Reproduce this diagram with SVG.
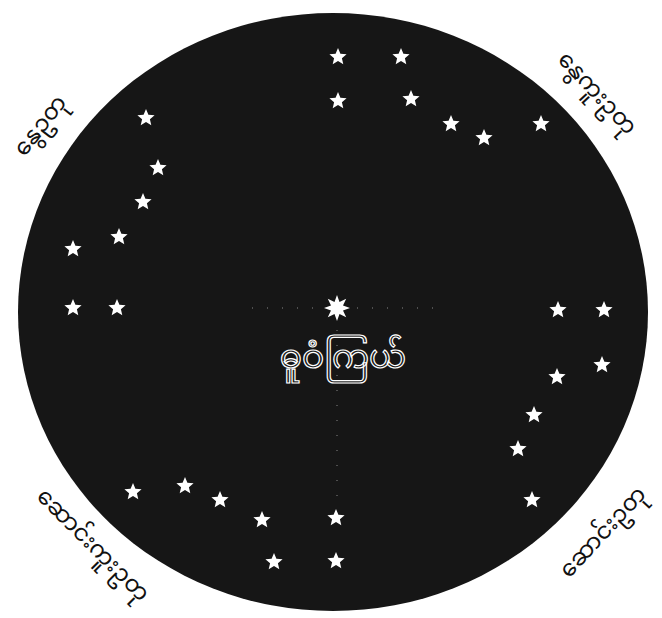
<svg xmlns="http://www.w3.org/2000/svg" width="662" height="618" viewBox="0 0 662 618">
<defs>
<style>
.lbl{font-family:"Noto Sans Myanmar","Padauk","Myanmar Text","Noto Sans",sans-serif;font-size:23px;fill:#111;text-anchor:middle}
.ctr{font-family:"Noto Sans Myanmar","Padauk","Myanmar Text","Noto Sans",sans-serif;font-size:33px;fill:#161616;stroke:#fff;stroke-width:1.2;text-anchor:middle}
.st{fill:#fff}
.dots{stroke:#888;stroke-width:1;stroke-dasharray:1 14;fill:none}
</style>
<path id="star" d="M0,-9 L2.4,-3.3 L8.6,-2.8 L3.9,1.25 L5.3,7.3 L0,4.1 L-5.3,7.3 L-3.9,1.25 L-8.6,-2.8 L-2.4,-3.3Z"/>
</defs>
<rect width="662" height="618" fill="#fff"/>
<ellipse id="sky" cx="333" cy="312" rx="315" ry="299" fill="#161616"/>
<g id="guides">
<line class="dots" x1="252" y1="308" x2="440" y2="308"/>
<line class="dots" x1="337" y1="330" x2="337" y2="500"/>
</g>
<g id="group-top" class="st">
<use href="#star" x="338" y="57"/>
<use href="#star" x="401" y="57"/>
<use href="#star" x="338" y="101"/>
<use href="#star" x="411" y="99"/>
<use href="#star" x="451" y="124"/>
<use href="#star" x="484" y="138"/>
<use href="#star" x="541" y="124"/>
</g>
<g id="group-left" class="st">
<use href="#star" x="146" y="118"/>
<use href="#star" x="158" y="168"/>
<use href="#star" x="143" y="202"/>
<use href="#star" x="119" y="237"/>
<use href="#star" x="73" y="249"/>
<use href="#star" x="73" y="308"/>
<use href="#star" x="117" y="308"/>
</g>
<g id="group-right" class="st">
<use href="#star" x="558" y="310"/>
<use href="#star" x="604" y="310"/>
<use href="#star" x="602" y="365"/>
<use href="#star" x="557" y="377"/>
<use href="#star" x="534" y="415"/>
<use href="#star" x="518" y="449"/>
<use href="#star" x="532" y="500"/>
</g>
<g id="group-bottom" class="st">
<use href="#star" x="133" y="492"/>
<use href="#star" x="185" y="486"/>
<use href="#star" x="220" y="500"/>
<use href="#star" x="262" y="520"/>
<use href="#star" x="336" y="518"/>
<use href="#star" x="274" y="562"/>
<use href="#star" x="336" y="561"/>
</g>
<g id="pole-star">
<polygon class="st" points="337,295 339.5,302 346.2,298.8 343,305.5 350,308 343,310.5 346.2,317.2 339.5,314 337,321 334.5,314 327.8,317.2 331,310.5 324,308 331,305.5 327.8,298.8 334.5,302"/>
<text class="ctr" x="343" y="368">ဓူဝံကြယ်</text>
</g>
<g id="label-tl"><text class="lbl" transform="translate(46,130) rotate(-52)">နွေဥတု</text></g>
<g id="label-tr"><text class="lbl" transform="translate(592,98) rotate(47)">နွေကူးဥတု</text></g>
<g id="label-bl"><text class="lbl" transform="translate(88,550) rotate(45)">ဆောင်းကူးဥတု</text></g>
<g id="label-br"><text class="lbl" transform="translate(608,537) rotate(-47)">ဆောင်းဥတု</text></g>
</svg>
